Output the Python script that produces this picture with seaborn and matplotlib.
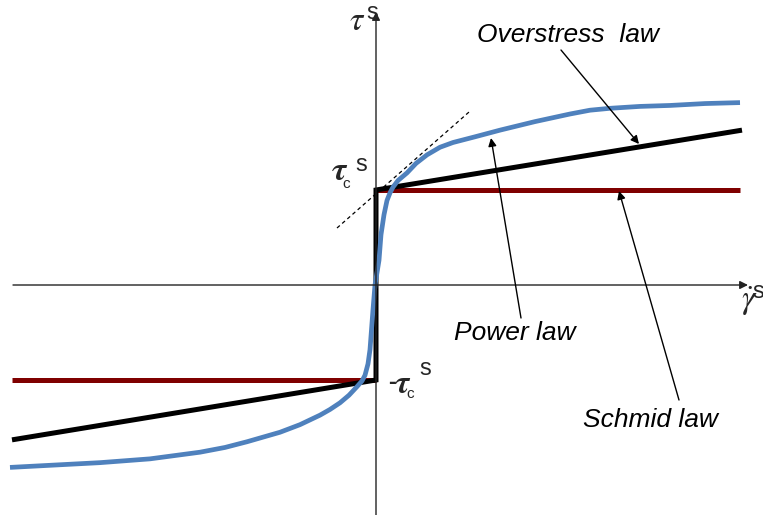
import numpy as np
import pandas as pd
import matplotlib
matplotlib.use("Agg")
import matplotlib.pyplot as plt
import seaborn as sns

sns.set_theme(style="white")
plt.rcParams["font.family"] = ["Liberation Sans", "DejaVu Sans"]
plt.rcParams["mathtext.fontset"] = "stix"

# Normalised slip rate (gamma_dot) and resolved shear stress (tau / tau_c)
tau_c = 1.0

# Schmid law: rate-independent, flat at +/- tau_c
schmid_pos_rate = [0.0, 3.64]
schmid_pos_tau = [1.0, 1.0]
schmid_neg_rate = [-3.64, 0.0]
schmid_neg_tau = [-1.0, -1.0]

# Overstress law: vertical jump at zero rate, then linear hardening
over_rate = [-3.64, 0.0, 0.0, 3.66]
over_tau = [-1.63, -1.0, 1.0, 1.63]

# Power law: smooth viscoplastic curve
power_rate = [-3.66, -2.76, -2.26, -1.76, -1.51, -1.29, -0.96, -0.76, -0.56,
              -0.46, -0.36, -0.27, -0.19, -0.14, -0.11, -0.08, -0.06, -0.03,
              -0.01, 0.03, 0.05, 0.08, 0.11, 0.14, 0.17, 0.22, 0.31, 0.40,
              0.51, 0.64, 0.77, 0.99, 1.24, 1.59, 1.94, 2.14, 2.34, 2.64,
              2.94, 3.29, 3.64]
power_tau = [-1.92, -1.87, -1.83, -1.76, -1.71, -1.65, -1.55, -1.47, -1.37,
             -1.31, -1.24, -1.16, -1.07, -1.01, -0.95, -0.83, -0.68, -0.26,
             0.0, 0.26, 0.53, 0.74, 0.89, 0.97, 1.03, 1.10, 1.18, 1.28,
             1.37, 1.45, 1.50, 1.56, 1.63, 1.72, 1.80, 1.84, 1.86, 1.88,
             1.89, 1.91, 1.92]

# Tangent to the power law at the yield point
tangent_rate = [-0.39, 0.94]
tangent_tau = [0.60, 1.83]

W, H = 763, 515
fig = plt.figure(figsize=(W / 100, H / 100), dpi=100)
ax = fig.add_axes([0, 0, 1, 1])
ax.set_xlim(-3.76, 3.87)
ax.set_ylim(-2.421, 3.0)
ax.axis("off")


def px(x, y):
    """Screen pixel (from top-left) to data coordinates."""
    return ((x - 376) / 100.0, (285 - y) / 95.0)


# Coordinate axes with arrow heads
ax.annotate("", xy=px(748, 285), xytext=px(13, 285),
            arrowprops=dict(arrowstyle="-|>", color="#222222", lw=1.0,
                            mutation_scale=12, shrinkA=0, shrinkB=0))
ax.annotate("", xy=px(376, 12), xytext=px(376, 515),
            arrowprops=dict(arrowstyle="-|>", color="#222222", lw=1.0,
                            mutation_scale=12, shrinkA=0, shrinkB=0))

sns.lineplot(x=tangent_rate, y=tangent_tau, ax=ax, color="black",
             lw=0.9, linestyle=(0, (3, 2.5)), sort=False, estimator=None)

sns.lineplot(x=schmid_pos_rate, y=schmid_pos_tau, ax=ax, color="#7F0000",
             lw=3.6, sort=False, estimator=None, solid_capstyle="butt")
sns.lineplot(x=schmid_neg_rate, y=schmid_neg_tau, ax=ax, color="#7F0000",
             lw=3.6, sort=False, estimator=None, solid_capstyle="butt")
sns.lineplot(x=over_rate, y=over_tau, ax=ax, color="black", lw=3.6,
             sort=False, estimator=None, solid_capstyle="butt",
             solid_joinstyle="miter")
sns.lineplot(x=power_rate, y=power_tau, ax=ax, color="#4F81BD", lw=3.4,
             sort=False, estimator=None, solid_capstyle="butt",
             solid_joinstyle="round")

# Labels with leader arrows
lab = dict(fontsize=19, style="italic", color="black", ha="center", va="center")
arr = dict(arrowstyle="-|>", color="black", lw=1.0, mutation_scale=12,
           shrinkA=0, shrinkB=0)
ax.text(*px(568, 35), "Overstress  law", **lab)
ax.annotate("", xy=px(639, 144), xytext=px(561, 50), arrowprops=arr)
ax.text(*px(515, 333), "Power law", **lab)
ax.annotate("", xy=px(491, 138), xytext=px(521, 318), arrowprops=arr)
ax.text(*px(650, 420), "Schmid law", **lab)
ax.annotate("", xy=px(619, 191), xytext=px(679, 400), arrowprops=arr)

# Axis symbols
ax.text(*px(357, 21), r"$\tau$", fontsize=24, ha="center", va="center")
ax.text(*px(372, 13), "s", fontsize=17, ha="center", va="center")

ax.text(*px(340, 171), r"$\boldsymbol{\tau}$", fontsize=24, ha="center", va="center")
ax.text(*px(346, 184), "c", fontsize=11, ha="center", va="center")
ax.text(*px(361, 165), "s", fontsize=17, ha="center", va="center")

ax.text(*px(392, 382), "-", fontsize=17, fontweight="bold", ha="center", va="center")
ax.text(*px(403, 384), r"$\boldsymbol{\tau}$", fontsize=24, ha="center", va="center")
ax.text(*px(410, 394), "c", fontsize=11, ha="center", va="center")
ax.text(*px(425, 369), "s", fontsize=17, ha="center", va="center")

ax.text(*px(749, 301), r"$\dot{\gamma}$", fontsize=24, ha="center", va="center")
ax.text(*px(758, 292), "s", fontsize=17, ha="center", va="center")

fig.savefig("out.png", dpi=100)
